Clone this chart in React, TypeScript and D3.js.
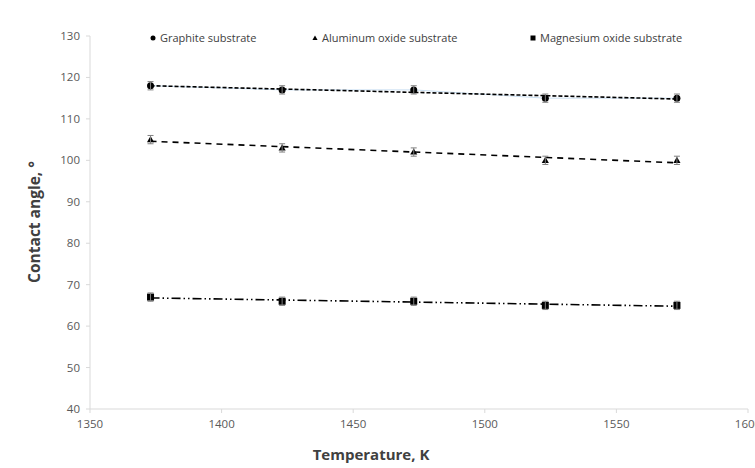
import React from "react";
import * as d3 from "d3";

const temperatures = [1373, 1423, 1473, 1523, 1573];
const graphite = [118, 117, 117, 115, 115];
const aluminum = [105, 103, 102, 100, 100];
const magnesium = [67, 66, 66, 65, 65];
const errors = [1, 1, 1, 1, 1];
const xTicks = [1350, 1400, 1450, 1500, 1550, 1600];
const yTicks = [40, 50, 60, 70, 80, 90, 100, 110, 120, 130];

const W = 755, H = 468;
const x = d3.scaleLinear().domain([1350, 1600]).range([90, 748]);
const y = d3.scaleLinear().domain([40, 130]).range([409, 36]);

function fit(xs: number[], ys: number[]) {
  const mx = d3.mean(xs)!, my = d3.mean(ys)!;
  let num = 0, den = 0;
  xs.forEach((v, i) => { num += (v - mx) * (ys[i] - my); den += (v - mx) ** 2; });
  const b = num / den;
  return (t: number) => my + b * (t - mx);
}

const series = [
  { name: "Graphite substrate", values: graphite, marker: "circle", dash: "4 2", blue: true },
  { name: "Aluminum oxide substrate", values: aluminum, marker: "triangle", dash: "6 5", blue: false },
  { name: "Magnesium oxide substrate", values: magnesium, marker: "square", dash: "9 3 1.5 3 1.5 3", blue: false },
];

function Marker({ type, cx, cy, s = 7 }: { type: string; cx: number; cy: number; s?: number }) {
  if (type === "circle") return <circle cx={cx} cy={cy} r={s / 2} fill="#000" />;
  if (type === "triangle")
    return <path d={d3.symbol(d3.symbolTriangle, s * s * 0.45)()!} transform={`translate(${cx},${cy + 0.5})`} fill="#000" />;
  return <rect x={cx - s / 2} y={cy - s / 2} width={s} height={s} fill="#000" />;
}

export default function App() {
  const line = d3.line<number>().x((_, i) => x(temperatures[i])).y((v) => y(v));
  const font = "'Open Sans', 'Liberation Sans', sans-serif";
  return (
    <svg width={W} height={H} style={{ position: "absolute", left: 0, top: 0, background: "#fff" }} fontFamily={font}>
      <rect width={W} height={H} fill="#fff" />
      <line x1={90} x2={90} y1={36} y2={409} stroke="#d9d9d9" />
      <line x1={90} x2={748} y1={409} y2={409} stroke="#d9d9d9" />
      {yTicks.map((t) => (
        <g key={t}>
          <line x1={86} x2={90} y1={y(t)} y2={y(t)} stroke="#d9d9d9" />
          <text x={80} y={y(t)} dy="0.35em" textAnchor="end" fontSize={11.5} fill="#595959">{t}</text>
        </g>
      ))}
      {xTicks.map((t) => (
        <g key={t}>
          <line x1={x(t)} x2={x(t)} y1={409} y2={413} stroke="#d9d9d9" />
          <text x={x(t)} y={428} textAnchor="middle" fontSize={11.5} fill="#595959">{t}</text>
        </g>
      ))}
      <text x={371} y={460} textAnchor="middle" fontSize={15} fontWeight="bold" fill="#404040">Temperature, K</text>
      <text transform={`translate(40,222) rotate(-90)`} textAnchor="middle" fontSize={15.5} fontWeight="bold" fill="#404040">Contact angle, °</text>
      {series.map((s) => {
        const f = fit(temperatures, s.values);
        const x0 = temperatures[0], x1 = temperatures[temperatures.length - 1];
        return (
          <g key={s.name}>
            {s.blue && <path d={line(s.values)!} fill="none" stroke="#bdd7ee" strokeWidth={0.8} />}
            <line x1={x(x0)} y1={y(f(x0))} x2={x(x1)} y2={y(f(x1))} stroke="#000" strokeWidth={1.6} strokeDasharray={s.dash} />
            {s.values.map((v, i) => (
              <g key={i}>
                <Marker type={s.marker} cx={x(temperatures[i])} cy={y(v)} />
                <g stroke="#808080" strokeWidth={1}>
                  <line x1={x(temperatures[i])} x2={x(temperatures[i])} y1={y(v - errors[i])} y2={y(v + errors[i])} />
                  <line x1={x(temperatures[i]) - 3} x2={x(temperatures[i]) + 3} y1={y(v - errors[i])} y2={y(v - errors[i])} />
                  <line x1={x(temperatures[i]) - 3} x2={x(temperatures[i]) + 3} y1={y(v + errors[i])} y2={y(v + errors[i])} />
                </g>
              </g>
            ))}
          </g>
        );
      })}
      {series.map((s, i) => {
        const lx = [153, 315, 533][i];
        return (
          <g key={s.name}>
            <Marker type={s.marker} cx={lx} cy={38} s={5} />
            <text x={lx + 7} y={38} dy="0.35em" fontSize={11} fill="#404040">{s.name}</text>
          </g>
        );
      })}
    </svg>
  );
}
